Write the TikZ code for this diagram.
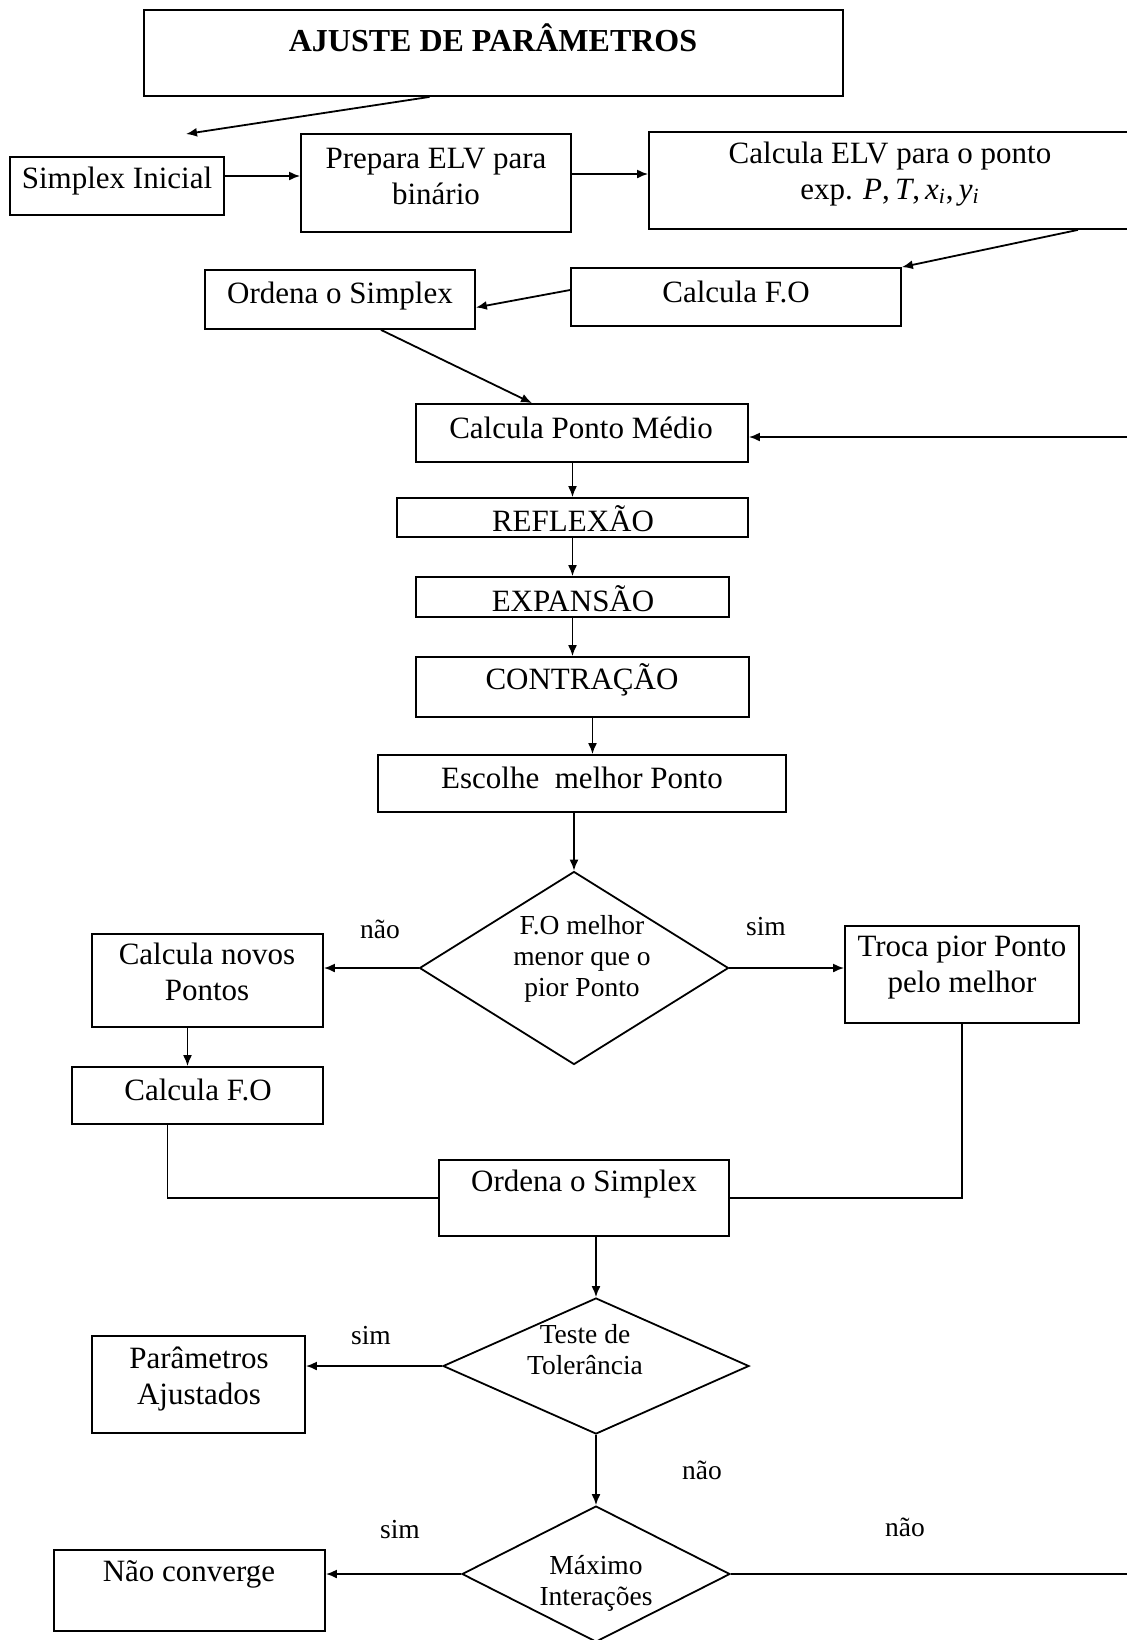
\documentclass[tikz,border=0pt]{standalone}
\usepackage{fontspec}
\setmainfont{Liberation Serif}
\usetikzlibrary{shapes.geometric,fit,calc,arrows.meta}
\begin{document}
\begin{tikzpicture}[x=0.5pt,y=-0.5pt,
  box/.style={draw, line width=0.9pt, inner sep=0pt},
  dia/.style={draw, diamond, line width=0.9pt, inner sep=0pt},
  txt/.style={inner sep=0pt, align=center, font=\fontsize{15.5pt}{18pt}\selectfont},
  stxt/.style={inner sep=0pt, align=center, font=\fontsize{13.75pt}{15.5pt}\selectfont},
  arr/.style={line width=0.9pt, -{Latex[length=5.5pt,width=4.5pt]}},
  ln/.style={line width=0.9pt}]
\useasboundingbox (0,0) rectangle (1127,1640);
\clip (0,0) rectangle (1127,1640);
% boxes
\node[box, fit={(144,10) (843,96)}] (title) {};
\node[txt, font=\fontsize{16pt}{18pt}\selectfont\bfseries] (title-t) at (493,38) {AJUSTE DE PARÂMETROS};
\node[box, fit={(10,157) (224,215)}] (si) {};
\node[txt] (si-t) at (117,181) {Simplex Inicial};
\node[box, fit={(301,134) (571,232)}] (prep) {};
\node[txt] (prep-t) at (436,176) {Prepara ELV para\\binário};
\node[box, fit={(649,132) (1140,229)}] (celv) {};
\node[txt] (celv-t) at (890,174) {Calcula ELV para o ponto\\exp. \textit{P},\,\textit{T},\,\textit{x}\textsubscript{\textit{i}},\,\textit{y}\textsubscript{\textit{i}}};
\node[box, fit={(571,268) (901,326)}] (cfo) {};
\node[txt] (cfo-t) at (736,292) {Calcula F.O};
\node[box, fit={(205,270) (475,329)}] (ord) {};
\node[txt] (ord-t) at (340,296) {Ordena o Simplex};
\node[box, fit={(416,404) (748,462)}] (cpm) {};
\node[txt] (cpm-t) at (581,428) {Calcula Ponto Médio};
\node[box, fit={(397,498) (748,537)}] (refl) {};
\node[txt] (refl-t) at (573,519) {REFLEXÃO};
\node[box, fit={(416,577) (729,617)}] (expa) {};
\node[txt] (expa-t) at (573,599) {EXPANSÃO};
\node[box, fit={(416,657) (749,717)}] (cont) {};
\node[txt] (cont-t) at (582,680) {CONTRAÇÃO};
\node[box, fit={(378,755) (786,812)}] (esc) {};
\node[txt] (esc-t) at (582,778) {Escolhe\ \ melhor Ponto};
\node[dia, minimum width=154.5pt, minimum height=96.5pt] (d1) at (574,968) {};
\node[stxt] (d1-t) at (582,959) {F.O melhor\\menor que o\\pior Ponto};
\node[box, fit={(92,934) (323,1027)}] (cnp) {};
\node[txt] (cnp-t) at (207,972) {Calcula novos\\Pontos};
\node[box, fit={(845,926) (1079,1023)}] (troca) {};
\node[txt] (troca-t) at (962,968) {Troca pior Ponto\\pelo melhor};
\node[box, fit={(72,1067) (323,1124)}] (cfo2) {};
\node[txt] (cfo2-t) at (198,1090) {Calcula F.O};
\node[box, fit={(439,1160) (729,1236)}] (ord2) {};
\node[txt] (ord2-t) at (584,1184) {Ordena o Simplex};
\node[dia, minimum width=153pt, minimum height=68pt] (d2) at (596,1366) {};
\node[stxt] (d2-t) at (585,1350) {Teste de\\Tolerância};
\node[box, fit={(92,1336) (305,1433)}] (pa) {};
\node[txt] (pa-t) at (199,1379) {Parâmetros\\Ajustados};
\node[dia, minimum width=134pt, minimum height=68pt] (d3) at (596,1574) {};
\node[stxt] (d3-t) at (596,1583) {Máximo\\Interações};
\node[box, fit={(54,1550) (325,1631)}] (nc) {};
\node[txt] (nc-t) at (189,1574) {Não converge};
% labels
\node[stxt] (l1) at (380,929) {não};
\node[stxt] (l2) at (766,927) {sim};
\node[stxt] (l3) at (371,1336) {sim};
\node[stxt] (l4) at (702,1470) {não};
\node[stxt] (l5) at (400,1530) {sim};
\node[stxt] (l6) at (905,1527) {não};
% connectors
\coordinate (c0) at (186,134);
\draw[arr] ($(title.south)+(-64,0)$) -- (c0);
\coordinate (a1) at ($(si.east)+(0,-10)$);
\draw[arr] (a1) -- (a1 -| prep.west);
\coordinate (a2) at ($(prep.east)+(0,-9)$);
\draw[arr] (a2) -- (a2 -| celv.west);
\draw[arr] ($(celv.south east)+(-63,0)$) -- (cfo.north east);
\draw[arr] ($(cfo.west)+(0,-7)$) -- ($(ord.east)+(0,8)$);
\draw[arr] ($(ord.south)+(41,0)$) -- ($(cpm.north)+(-50,0)$);
\coordinate (re1) at (1140,437);
\draw[arr] (re1) -- (re1 -| cpm.east);
\draw[arr] (refl.north |- cpm.south) -- (refl.north);
\draw[arr] (refl.south -| expa.north) -- (expa.north);
\draw[arr] (expa.south) -- (expa.south |- cont.north);
\coordinate (a3) at ($(cont.south)+(10,0)$);
\draw[arr] (a3) -- (a3 |- esc.north);
\draw[arr] (esc.south -| d1.north) -- (d1.north);
\draw[arr] (d1.west) -- (d1.west -| cnp.east);
\draw[arr] (d1.east) -- (d1.east -| troca.west);
\coordinate (a4) at ($(cnp.south)+(-20,0)$);
\draw[arr] (a4) -- (a4 |- cfo2.north);
\draw[ln] ($(cfo2.south)+(-30,0)$) |- (ord2.west);
\draw[ln] (troca.south) |- (ord2.east);
\draw[arr] (d2.north |- ord2.south) -- (d2.north);
\draw[arr] (d2.west) -- (d2.west -| pa.east);
\draw[arr] (d2.south) -- (d3.north);
\draw[arr] (d3.west) -- (d3.west -| nc.east);
\coordinate (re2) at (1140,1574);
\draw[ln] (d3.east) -- (re2);
\end{tikzpicture}
\end{document}
